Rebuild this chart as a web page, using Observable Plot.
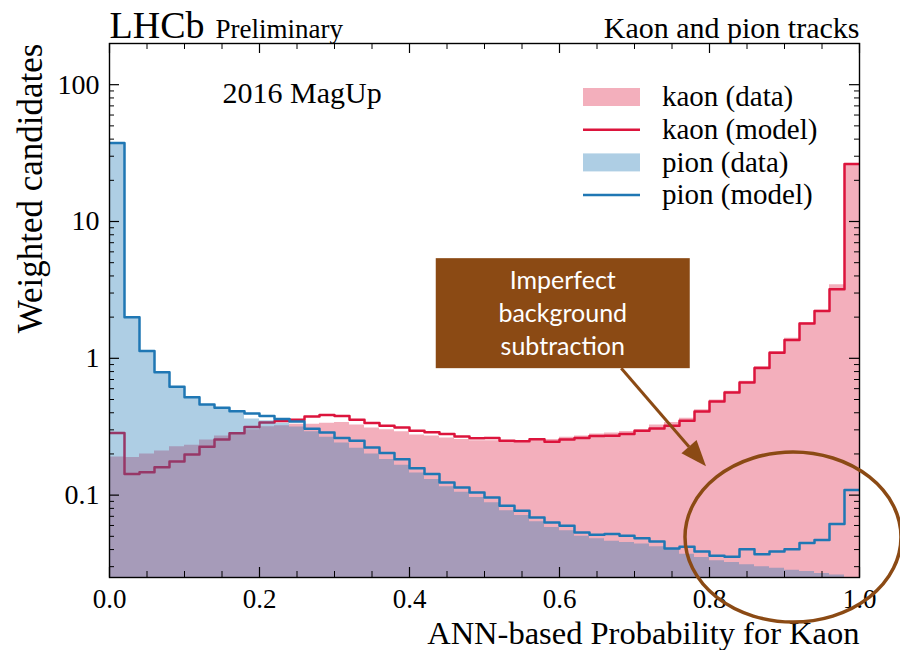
<!DOCTYPE html>
<html>
<head>
<meta charset="utf-8">
<script src="https://cdn.jsdelivr.net/npm/d3@7"></script>
<script src="https://cdn.jsdelivr.net/npm/@observablehq/plot@0.6"></script>
<style>
  body { margin: 0; background: #fff; }
  #chart { width: 900px; height: 650px; }
</style>
</head>
<body>
<div id="chart"></div>
<script>
// ANN kaon probability, 50 bins of width 0.02 on [0, 1]
const nBins = 50;
const kaonData = [
  0.190, 0.188, 0.200, 0.210, 0.226, 0.232, 0.253, 0.270, 0.283, 0.300,
  0.316, 0.322, 0.330, 0.330, 0.335, 0.340, 0.325, 0.310, 0.300, 0.290,
  0.275, 0.270, 0.262, 0.255, 0.250, 0.250, 0.245, 0.248, 0.255, 0.255,
  0.265, 0.270, 0.280, 0.285, 0.292, 0.300, 0.325, 0.340, 0.365, 0.420,
  0.495, 0.575, 0.680, 0.870, 1.120, 1.400, 1.820, 2.250, 3.450, 26.3
];
const kaonModel = [
  0.285, 0.143, 0.147, 0.160, 0.176, 0.198, 0.226, 0.255, 0.283, 0.315,
  0.340, 0.348, 0.355, 0.375, 0.385, 0.378, 0.355, 0.336, 0.322, 0.312,
  0.295, 0.288, 0.280, 0.268, 0.260, 0.262, 0.250, 0.248, 0.256, 0.246,
  0.255, 0.262, 0.270, 0.272, 0.280, 0.295, 0.307, 0.321, 0.349, 0.408,
  0.483, 0.562, 0.666, 0.850, 1.100, 1.360, 1.800, 2.220, 3.200, 26.3
];
const pionData = [
  37.5, 2.00, 1.13, 0.790, 0.620, 0.520, 0.460, 0.430, 0.405, 0.360,
  0.350, 0.335, 0.315, 0.290, 0.265, 0.240, 0.220, 0.200, 0.182, 0.165,
  0.145, 0.130, 0.115, 0.105, 0.096, 0.088, 0.077, 0.071, 0.064, 0.058,
  0.055, 0.050, 0.048, 0.046, 0.045, 0.044, 0.042, 0.0403, 0.037, 0.035,
  0.0331, 0.0322, 0.031, 0.030, 0.0292, 0.0283, 0.0277, 0.0267, 0.0261, 0.0245
];
const pionModel = [
  37.5, 2.00, 1.13, 0.790, 0.620, 0.520, 0.460, 0.435, 0.410, 0.395,
  0.378, 0.360, 0.345, 0.305, 0.287, 0.262, 0.250, 0.223, 0.203, 0.183,
  0.157, 0.1425, 0.1236, 0.1137, 0.1044, 0.096, 0.0835, 0.0768, 0.0686, 0.063,
  0.0597, 0.0533, 0.0513, 0.0519, 0.0504, 0.0484, 0.0458, 0.0407, 0.0419, 0.0387,
  0.036, 0.0354, 0.0403, 0.037, 0.0387, 0.0403, 0.0446, 0.0469, 0.0614, 0.109
];

const xTicksMajor = [0.0, 0.2, 0.4, 0.6, 0.8, 1.0];
const xTicksMinor = [0.05, 0.1, 0.15, 0.25, 0.3, 0.35, 0.45, 0.5, 0.55, 0.65, 0.7, 0.75, 0.85, 0.9, 0.95];
const yTicksMajor = [0.1, 1, 10, 100];
const yTickLabels = ["0.1", "1", "10", "100"];
const yTicksMinor = [0.03, 0.04, 0.05, 0.06, 0.07, 0.08, 0.09,
  0.2, 0.3, 0.4, 0.5, 0.6, 0.7, 0.8, 0.9,
  2, 3, 4, 5, 6, 7, 8, 9,
  20, 30, 40, 50, 60, 70, 80, 90];

const legendLabels = ["kaon (data)", "kaon (model)", "pion (data)", "pion (model)"];
const noteLines = ["Imperfect", "background", "subtraction"];

// histogram outlines as step points: lower edge of each bin plus the closing edge
function steps(values) {
  const pts = values.map((v, i) => ({x: i / nBins, y: v}));
  pts.push({x: 1, y: values[values.length - 1]});
  return pts;
}

const W = 900, H = 650;
const mL = 109, mR = 41, mT = 43, mB = 73;
const fw = W - mL - mR, fh = H - mT - mB;
const yMin = 0.025, yMax = 200;

const kaonCol = "#dc143c", pionCol = "#1f77b4";
const kaonFillOp = 0.34, pionFillOp = 0.36;
const serif = "Liberation Serif, Times New Roman, serif";

const svg = Plot.plot({
  width: W, height: H,
  marginLeft: mL, marginRight: mR, marginTop: mT, marginBottom: mB,
  x: {domain: [0, 1], axis: null},
  y: {type: "log", domain: [yMin, yMax], axis: null},
  style: {fontFamily: serif, background: "white", color: "black"},
  marks: [
    Plot.areaY(steps(kaonData), {x: "x", y1: yMin, y2: "y", curve: "step-after", fill: kaonCol, fillOpacity: kaonFillOp, clip: true}),
    Plot.line(steps(kaonModel), {x: "x", y: "y", curve: "step-after", stroke: kaonCol, strokeWidth: 2.5, clip: true}),
    Plot.areaY(steps(pionData), {x: "x", y1: yMin, y2: "y", curve: "step-after", fill: pionCol, fillOpacity: pionFillOp, clip: true}),
    Plot.line(steps(pionModel), {x: "x", y: "y", curve: "step-after", stroke: pionCol, strokeWidth: 2.5, clip: true}),

    // inward ticks on all four sides
    Plot.tickX(xTicksMajor, {x: d => d, insetTop: fh - 10, stroke: "black", strokeWidth: 1.2}),
    Plot.tickX(xTicksMajor, {x: d => d, insetBottom: fh - 10, stroke: "black", strokeWidth: 1.2}),
    Plot.tickX(xTicksMinor, {x: d => d, insetTop: fh - 6, stroke: "black", strokeWidth: 1}),
    Plot.tickX(xTicksMinor, {x: d => d, insetBottom: fh - 6, stroke: "black", strokeWidth: 1}),
    Plot.tickY(yTicksMajor, {y: d => d, insetRight: fw - 10, stroke: "black", strokeWidth: 1.2}),
    Plot.tickY(yTicksMajor, {y: d => d, insetLeft: fw - 10, stroke: "black", strokeWidth: 1.2}),
    Plot.tickY(yTicksMinor, {y: d => d, insetRight: fw - 5, stroke: "black", strokeWidth: 1}),
    Plot.tickY(yTicksMinor, {y: d => d, insetLeft: fw - 5, stroke: "black", strokeWidth: 1}),
    Plot.frame({stroke: "black", strokeWidth: 1.4}),

    // tick labels
    Plot.text(xTicksMajor, {x: d => d, frameAnchor: "bottom", dy: 22, text: d => d.toFixed(1), fontSize: 27, lineAnchor: "middle", fill: "black"}),
    Plot.text(yTicksMajor, {y: d => d, frameAnchor: "left", dx: -10, text: (d, i) => yTickLabels[i], textAnchor: "end", fontSize: 28, lineAnchor: "middle", fill: "black"}),

    // axis titles
    Plot.text(["ANN-based Probability for Kaon"], {frameAnchor: "bottom-right", dy: 56, textAnchor: "end", lineAnchor: "middle", fontSize: 32.5, fill: "black"}),
    Plot.text(["Weighted candidates"], {frameAnchor: "top-left", dx: -79, rotate: -90, textAnchor: "end", lineAnchor: "middle", fontSize: 35, fill: "black"}),

    // headers
    Plot.text(["LHCb"], {frameAnchor: "top-left", dy: -6, textAnchor: "start", lineAnchor: "bottom", fontSize: 38, fill: "black"}),
    Plot.text(["Preliminary"], {frameAnchor: "top-left", dx: 106, dy: -6, textAnchor: "start", lineAnchor: "bottom", fontSize: 27, fill: "black"}),
    Plot.text(["Kaon and pion tracks"], {frameAnchor: "top-right", dy: -6, textAnchor: "end", lineAnchor: "bottom", fontSize: 30, fill: "black"}),
    Plot.text(["2016 MagUp"], {frameAnchor: "top-left", dx: 113, dy: 50, textAnchor: "start", lineAnchor: "middle", fontSize: 30, fill: "black"})
  ]
});

document.getElementById("chart").appendChild(svg);

// legend and annotation, positioned through the plot scales
const sx = svg.scale("x"), sy = svg.scale("y");
const root = d3.select(svg);

const legendRows = [
  {kind: "fill", color: kaonCol, op: kaonFillOp},
  {kind: "line", color: kaonCol},
  {kind: "fill", color: pionCol, op: pionFillOp},
  {kind: "line", color: pionCol}
];
const legX = 583, legY0 = 97, legDy = 32.7;
const leg = root.append("g");
legendRows.forEach((r, i) => {
  const y = legY0 + i * legDy;
  if (r.kind === "fill") {
    leg.append("rect").attr("x", legX).attr("y", y - 9).attr("width", 57).attr("height", 18)
      .attr("fill", r.color).attr("fill-opacity", r.op);
  } else {
    leg.append("line").attr("x1", legX).attr("x2", legX + 57).attr("y1", y).attr("y2", y)
      .attr("stroke", r.color).attr("stroke-width", 2.5);
  }
  leg.append("text").attr("x", 662).attr("y", y).attr("dy", "0.32em")
    .attr("text-anchor", "start")
    .attr("font-family", serif).attr("font-size", 29).attr("fill", "black")
    .text(legendLabels[i]);
});

const brown = "#8b4a14";
const note = root.append("g");
const boxC = [sx.apply(0.605), sy.apply(2.12)];
note.append("rect").attr("x", boxC[0] - 127).attr("y", boxC[1] - 55).attr("width", 254).attr("height", 110).attr("fill", brown);
noteLines.forEach((t, i) => {
  note.append("text").attr("x", boxC[0]).attr("y", boxC[1] + (i - 1) * 33).attr("dy", "0.35em")
    .attr("text-anchor", "middle").attr("font-family", "Lato, Open Sans, sans-serif")
    .attr("font-size", 25).attr("fill", "white").text(t);
});

// arrow from the note box towards the pion tail
const a0 = [sx.apply(0.683), sy.apply(0.838)];
const a1 = [sx.apply(0.796), sy.apply(0.161)];
const ang = Math.atan2(a1[1] - a0[1], a1[0] - a0[0]);
const headLen = 26, headHalf = 10;
const base = [a1[0] - headLen * Math.cos(ang), a1[1] - headLen * Math.sin(ang)];
note.append("line").attr("x1", a0[0]).attr("y1", a0[1]).attr("x2", base[0]).attr("y2", base[1])
  .attr("stroke", brown).attr("stroke-width", 3);
note.append("path").attr("fill", brown).attr("d",
  `M${a1[0]},${a1[1]}L${base[0] - headHalf * Math.sin(ang)},${base[1] + headHalf * Math.cos(ang)}L${base[0] + headHalf * Math.sin(ang)},${base[1] - headHalf * Math.cos(ang)}Z`);

// ellipse around the high-probability pion excess
const ec = [sx.apply(0.912), sy.apply(0.049)];
note.append("ellipse").attr("cx", ec[0]).attr("cy", ec[1]).attr("rx", 108).attr("ry", 85)
  .attr("fill", "none").attr("stroke", brown).attr("stroke-width", 3.5);
</script>
</body>
</html>
